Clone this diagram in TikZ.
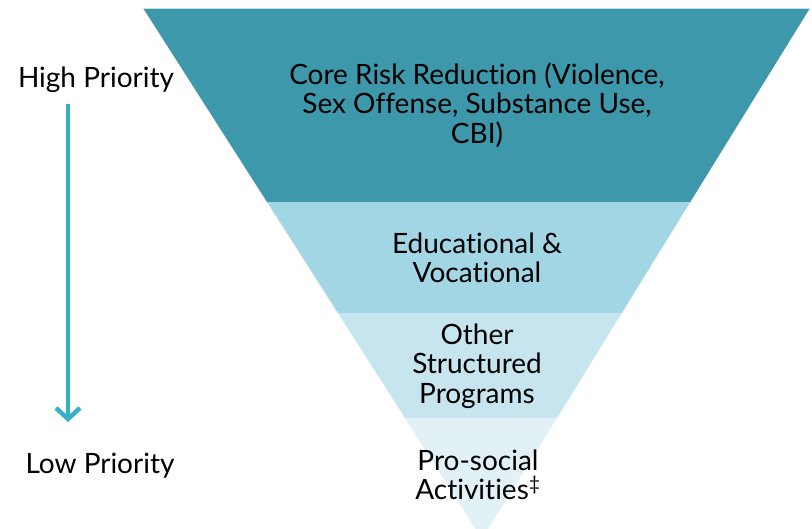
\documentclass[tikz,border=0pt]{standalone}
\usepackage{fontspec}
\setmainfont{Lato}[RawFeature={-liga}]
\usetikzlibrary{arrows.meta}
\definecolor{bandA}{HTML}{3E98AB}
\definecolor{bandB}{HTML}{A3D6E5}
\definecolor{bandC}{HTML}{C6E5EE}
\definecolor{bandD}{HTML}{E1F1F6}
\definecolor{arrowc}{HTML}{35B0C5}
\tikzset{
  lbl/.style={font=\fontsize{28}{29.5}\selectfont, align=center, text=black, inner sep=0pt},
  side/.style={font=\fontsize{28}{29.5}\selectfont, text=black, inner sep=0pt},
}
\begin{document}
\begin{tikzpicture}[x=1pt,y=-1pt]
\useasboundingbox (0,0) rectangle (812,528);
\begin{scope}
\clip (0,0) rectangle (812,528);
\fill[bandA] (143,8) -- (810,8) -- (690.3,202) -- (267,202) -- cycle;
\fill[bandB] (267,202) -- (690.3,202) -- (621.8,313) -- (337.9,313) -- cycle;
\fill[bandC] (337.9,313) -- (621.8,313) -- (557,418) -- (405,418) -- cycle;
\fill[bandD] (405,418) -- (557,418) -- (482,539) -- cycle;
\draw[bandB!70, line width=1pt] (143,8) -- (810,8);
\end{scope}
\node[lbl] (core) at (477,105) {Core Risk Reduction (Violence,\\Sex Offense, Substance Use,\\CBI)};
\node[lbl] (edu) at (477,258) {Educational \&\\Vocational};
\node[lbl] (other) at (477,366) {Other\\Structured\\Programs};
\node[lbl] (pro) at (478,475) {Pro-social\\Activities\textsuperscript{‡}};
\node[side] (high) at (96,80) {High Priority};
\node[side] (low) at (100,466) {Low Priority};
\coordinate (astart) at (68,104);
\coordinate (aend) at (68,422);
\draw[arrowc, line width=4.5pt, -{Straight Barb[length=11pt,width=24pt,line width=4.5pt]}] (astart) -- (aend);
\end{tikzpicture}
\end{document}
